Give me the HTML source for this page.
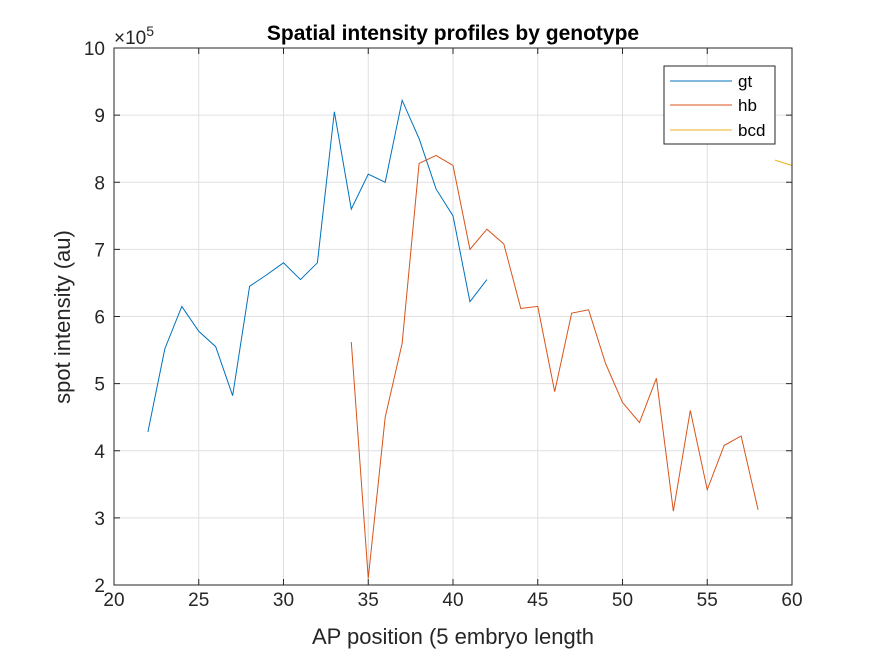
<!DOCTYPE html>
<html><head><meta charset="utf-8"><style>
body{margin:0;background:#fff;}
svg{font-family:"Liberation Sans",Arial,sans-serif;}
</style></head><body>
<svg id="chart" width="875" height="656" viewBox="0 0 875 656">
<rect width="875" height="656" fill="#fff"/>
<g id="grid"></g>
<g id="series"></g>
<g id="axes"></g>
<text x="453" y="40" text-anchor="middle" font-size="21" font-weight="bold" fill="#000">Spatial intensity profiles by genotype</text>
<text x="453" y="644" text-anchor="middle" font-size="22" fill="#262626">AP position (5 embryo length</text>
<text transform="translate(70,317) rotate(-90)" text-anchor="middle" font-size="22" fill="#262626">spot intensity (au)</text>
<text x="114" y="44" font-size="19" fill="#262626">×10<tspan dy="-8" font-size="14">5</tspan></text>
<g>
<rect x="664" y="66" width="111" height="78" fill="#fff" stroke="#262626" stroke-width="1"/>
<g><line x1="670" y1="81" x2="732" y2="81" stroke="#0072BD"/><text x="738" y="87" font-size="17" fill="#000">gt</text></g>
<g><line x1="670" y1="105" x2="732" y2="105" stroke="#D95319"/><text x="738" y="111" font-size="17" fill="#000">hb</text></g>
<g><line x1="670" y1="130" x2="732" y2="130" stroke="#EDB120"/><text x="738" y="136" font-size="17" fill="#000">bcd</text></g>
</g>
</svg>
<script>
const gtX=[22,23,24,25,26,27,28,29,30,31,32,33,34,35,36,37,38,39,40,41,42];
const gtY=[4.28,5.52,6.15,5.78,5.55,4.82,6.45,6.62,6.8,6.55,6.8,9.05,7.6,8.12,8.0,9.22,8.65,7.9,7.5,6.22,6.55];
const hbX=[34,35,36,37,38,39,40,41,42,43,44,45,46,47,48,49,50,51,52,53,54,55,56,57,58];
const hbY=[5.62,2.1,4.5,5.6,8.28,8.4,8.25,7.0,7.3,7.08,6.12,6.15,4.88,6.05,6.1,5.3,4.72,4.42,5.08,3.1,4.6,3.42,4.08,4.22,3.12];
const bcdX=[59,60];
const bcdY=[8.33,8.25];
const xTicks=[20,25,30,35,40,45,50,55,60];
const yTicks=[2,3,4,5,6,7,8,9,10];
const L=114,R=792,T=48,B=585;
const sx=v=>L+(v-20)/(60-20)*(R-L);
const sy=v=>B-(v-2)/(10-2)*(B-T);
const NS='http://www.w3.org/2000/svg';
function mk(t,a,p){const e=document.createElementNS(NS,t);for(const k in a)e.setAttribute(k,a[k]);p.appendChild(e);return e;}
const grid=document.getElementById('grid'),axes=document.getElementById('axes'),ser=document.getElementById('series');
xTicks.forEach(v=>{
 const g=mk('line',{x1:sx(v),x2:sx(v),y1:T,y2:B,stroke:'#dfdfdf'},grid);
 
 
 mk('line',{x1:sx(v),x2:sx(v),y1:B,y2:B-6,stroke:'#262626'},axes);
 mk('line',{x1:sx(v),x2:sx(v),y1:T,y2:T+6,stroke:'#262626'},axes);
 const t=mk('text',{x:sx(v),y:B+21,'text-anchor':'middle','font-size':'19',fill:'#262626'},axes);
 t.textContent=v;
 
 
});
yTicks.forEach(v=>{
 const g=mk('line',{x1:L,x2:R,y1:sy(v),y2:sy(v),stroke:'#dfdfdf'},grid);
 
 
 mk('line',{x1:L,x2:L+6,y1:sy(v),y2:sy(v),stroke:'#262626'},axes);
 mk('line',{x1:R,x2:R-6,y1:sy(v),y2:sy(v),stroke:'#262626'},axes);
 const t=mk('text',{x:L-9,y:sy(v)+7,'text-anchor':'end','font-size':'19',fill:'#262626'},axes);
 t.textContent=v;
 
 
});
mk('rect',{x:L,y:T,width:R-L,height:B-T,fill:'none',stroke:'#262626'},axes);
function line(xs,ys,c,n){
 const p=mk('polyline',{points:xs.map((x,i)=>sx(x)+','+sy(ys[i])).join(' '),fill:'none',stroke:c,'stroke-width':'1'},ser);
 
 
}
line(gtX,gtY,'#0072BD','gt-line');
line(hbX,hbY,'#D95319','hb-line');
line(bcdX,bcdY,'#EDB120','bcd-line');
</script>
</body></html>
